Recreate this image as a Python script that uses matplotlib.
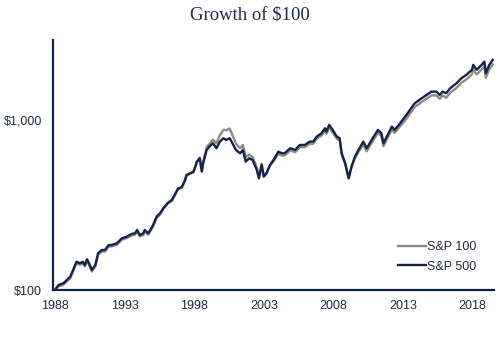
import matplotlib
matplotlib.use("Agg")
import matplotlib.pyplot as plt
from matplotlib.ticker import FixedLocator, NullLocator

# Growth of $100 invested, decimal-year dates
dates = [
    1988.0, 1988.25, 1988.6, 1988.85, 1989.1, 1989.45, 1989.55, 1989.8, 1990.0, 1990.15,
    1990.3, 1990.45, 1990.65, 1990.9, 1991.1, 1991.35, 1991.6, 1991.85, 1992.05, 1992.45,
    1992.8, 1993.15, 1993.5, 1993.75, 1993.9, 1994.1, 1994.35, 1994.45, 1994.7, 1994.85,
    1995.05, 1995.3, 1995.55, 1995.8, 1996.1, 1996.4, 1996.6, 1996.85, 1997.1, 1997.35,
    1997.45, 1997.7, 1997.95, 1998.2, 1998.4, 1998.55, 1998.65, 1998.9, 1999.1, 1999.35,
    1999.6, 1999.85, 2000.1, 2000.3, 2000.55, 2000.75, 2001.0, 2001.3, 2001.5, 2001.7,
    2001.95, 2002.2, 2002.5, 2002.65, 2002.85, 2003.0, 2003.2, 2003.45, 2003.7, 2004.05,
    2004.3, 2004.5, 2004.9, 2005.25, 2005.6, 2005.95, 2006.3, 2006.55, 2006.8, 2007.15,
    2007.4, 2007.5, 2007.7, 2007.95, 2008.25, 2008.45, 2008.6, 2008.85, 2009.1, 2009.3,
    2009.55, 2009.8, 2010.15, 2010.4, 2010.75, 2011.2, 2011.45, 2011.6, 2011.9, 2012.2,
    2012.4, 2012.8, 2013.25, 2013.5, 2013.85, 2014.35, 2014.7, 2015.05, 2015.4, 2015.65,
    2015.85, 2016.1, 2016.4, 2016.85, 2017.2, 2017.55, 2017.95, 2018.05, 2018.3, 2018.65,
    2018.85, 2018.95, 2019.2, 2019.45,
]

sp500 = [
    100, 107, 109.5, 114.5, 119.7, 140.3, 146.7, 143.6, 146.7, 140.3,
    151.6, 143.6, 131.1, 140.3, 164.4, 171.9, 171.9, 183.9, 183.9, 188.2,
    201.4, 205.9, 213.5, 215.6, 225.4, 210.6, 215.6, 225.4, 215.6, 225.4,
    241.2, 269.9, 282.6, 303.6, 325, 338.4, 362.2, 396.4, 401.9, 443.6,
    474.9, 485.9, 496.6, 568.5, 595.3, 496.6, 556.4, 666, 696.5, 729.4,
    681.7, 745.5, 780.6, 762.9, 780.6, 729.4, 666, 637, 666, 568.5,
    595.3, 581.8, 508, 454, 543.7, 464, 485.9, 543.7, 581.8, 651,
    637, 637, 681.7, 666, 712.8, 712.8, 745.5, 745.5, 797.7, 835.3,
    893.9, 853.6, 934.6, 873.6, 797.7, 780.6, 637, 556.4, 454, 531.3,
    608.4, 666, 745.5, 681.7, 762.9, 873.6, 835.3, 729.4, 816.3, 913.3,
    873.6, 956.3, 1070, 1145, 1254, 1342, 1403, 1467, 1467, 1403,
    1467, 1436, 1537, 1644, 1759, 1840, 1969, 2107, 1969, 2107,
    2203, 1883, 2107, 2254,
]

sp100 = [
    100, 105, 107.3, 112.2, 117.3, 137.5, 143.8, 140.7, 143.8, 137.5,
    148.6, 140.7, 128.5, 137.5, 161.1, 168.5, 168.5, 180.2, 180.2, 184.4,
    197.4, 201.8, 209.2, 211.3, 220.9, 206.4, 211.3, 220.9, 211.3, 220.9,
    236.4, 264.5, 277.5, 300.6, 321.8, 335, 358.6, 392.4, 397.9, 439.2,
    470.2, 481, 491.6, 566, 601, 506.5, 567.5, 692.6, 724.4, 765.9,
    729.4, 812.6, 874.3, 869.7, 889.9, 816.9, 726, 681.6, 712.6, 602.6,
    625.1, 605.1, 523.2, 463.1, 554.6, 468.6, 485.9, 538.3, 570.2, 631.5,
    617.9, 617.9, 661.2, 646, 691.4, 691.4, 723.1, 723.1, 773.8, 810.2,
    867.1, 828, 906.6, 847.4, 773.8, 757.2, 624.3, 550.8, 454, 526,
    596.2, 646, 715.7, 654.4, 732.4, 838.7, 801.9, 700.2, 783.6, 876.8,
    838.7, 918, 1017, 1088, 1191, 1275, 1333, 1394, 1394, 1333,
    1394, 1350, 1445, 1545, 1653, 1730, 1851, 1981, 1851, 1981,
    2071, 1770, 1981, 2119,
]

year_ticks = [1988, 1993, 1998, 2003, 2008, 2013, 2018]
value_ticks = [100, 1000]
value_labels = ["$100", "$1,000"]

NAVY = "#14234a"
GRAY = "#8f8b83"
TEXT = "#1f2a44"

plt.rcParams["font.family"] = ["Liberation Sans", "DejaVu Sans"]

fig = plt.figure(figsize=(5.0, 3.42), dpi=100)
ax = fig.add_axes([0.106, 0.152, 0.882, 0.731])

ax.plot(dates, sp100, color=GRAY, lw=1.7, label="S&P 100")
ax.plot(dates, sp500, color=NAVY, lw=1.7, label="S&P 500")

ax.set_yscale("log")
ax.set_ylim(100, 2950)
ax.set_xlim(1987.86, 2019.54)

ax.yaxis.set_major_locator(FixedLocator(value_ticks))
ax.yaxis.set_minor_locator(NullLocator())
ax.set_yticklabels(value_labels)
ax.set_xticks(year_ticks)
ax.set_xticklabels([str(y) for y in year_ticks])
ax.tick_params(axis="both", length=0, labelsize=9, colors=TEXT)
ax.tick_params(axis="y", pad=8)
ax.tick_params(axis="x", pad=7)

for side in ("top", "right"):
    ax.spines[side].set_visible(False)
for side in ("left", "bottom"):
    ax.spines[side].set_color(NAVY)
    ax.spines[side].set_linewidth(1.6)

fig.text(0.5, 0.955, "Growth of $100", ha="center", va="center",
         fontsize=13.5, color=TEXT, family=["Liberation Serif", "DejaVu Serif"])

leg = ax.legend(loc="lower right", bbox_to_anchor=(0.985, 0.025), frameon=False,
                fontsize=9, handlelength=2.2, handletextpad=0.1,
                labelspacing=0.6)
for t in leg.get_texts():
    t.set_color(TEXT)

fig.savefig("out.png", dpi=100)
